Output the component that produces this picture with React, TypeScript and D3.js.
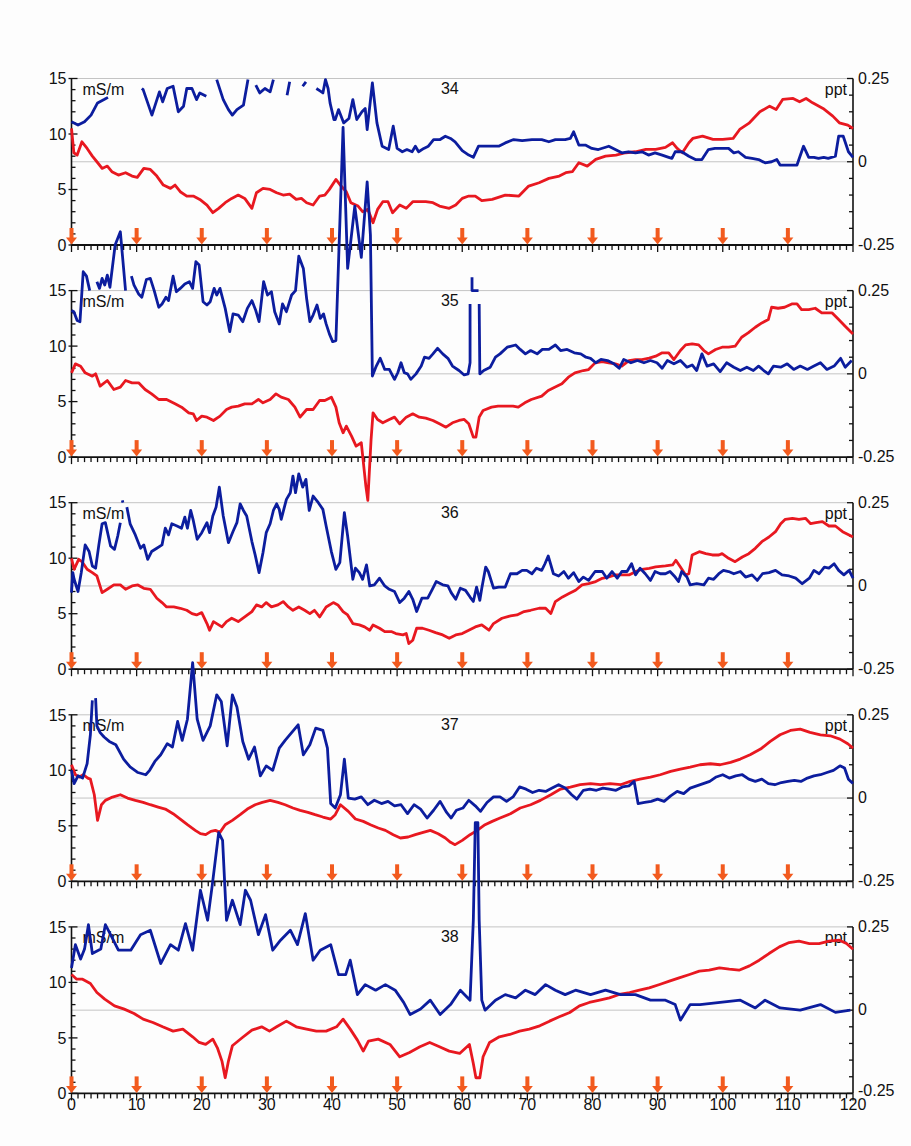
import React from "react";
import * as d3 from "d3";

type Pt = [number, number] | null;

// ---------- labels / ticks ----------
const panelLabels = ["34", "35", "36", "37", "38"];
const xTickLabels = [0, 10, 20, 30, 40, 50, 60, 70, 80, 90, 100, 110, 120];
const arrowStations = [0, 10, 20, 30, 40, 50, 60, 70, 80, 90, 100, 110];
const leftTicks = [0, 5, 10, 15];
const rightTicks = [-0.25, 0, 0.25];
const leftUnit = "mS/m";
const rightUnit = "ppt";

// ---------- data: blue = conductivity (mS/m, left axis); red = ppt (right axis) ----------
const blue34: Pt[] = [[0,11.1],[1,10.8],[2,11.1],[3,11.7],[4,12.8],[5,13.1],[5.6,13.3],null,[10.8,14.1],[11,14.0],[12.35,11.7],[13.5,13.8],[14.0,12.9],[14.7,14.1],[15.6,14.3],[16.4,12.0],[17.2,12.5],[17.7,14.1],[18.5,14.1],[19.2,13.1],[19.7,13.7],[20.7,13.4],null,[22.3,14.9],[23.3,13.1],[24.1,12.2],[24.7,11.7],[25.4,12.2],[26.4,12.6],[27.1,14.9],null,[28.3,14.4],[28.9,13.7],[29.7,14.1],[30.5,13.8],[31.0,14.9],null,[33.1,13.5],[33.5,14.7],null,[35.5,14.3],[36.0,14.7],null,[37.6,14.1],[38.1,13.9],[38.6,13.7],[39.0,14.9],[39.4,14.1],[39.7,12.8],[40.3,11.3],[40.5,11.3],[41.0,12.2],[41.8,11.0],[42.6,11.4],[43.2,13.1],[43.8,11.3],[44.6,12.0],[45.1,12.3],[45.4,10.4],[46.2,14.6],[46.9,11.0],[47.7,8.9],[48.7,8.6],[49.4,10.7],[50.0,8.7],[50.8,8.4],[51.5,8.6],[52.3,8.4],[52.8,8.9],[53.3,8.4],[54.1,8.7],[54.8,8.9],[55.6,9.5],[56.6,9.5],[57.4,9.8],[58.2,9.6],[58.9,9.3],[60.0,8.5],[61.0,8.1],[61.7,7.9],[62.5,8.9],[64.1,8.9],[65.6,8.9],[66.6,9.2],[67.9,9.5],[69.2,9.4],[70.7,9.5],[72.2,9.5],[73.3,9.3],[74.3,9.5],[75.8,9.5],[76.6,9.6],[77.1,10.2],[77.9,9.0],[78.9,9.0],[79.9,8.7],[80.9,8.6],[82.5,8.9],[83.5,8.6],[84.5,8.3],[85.5,8.4],[86.6,8.3],[87.6,8.4],[88.6,8.1],[89.6,8.3],[90.7,8.1],[91.7,7.9],[92.2,7.8],[92.7,8.4],[93.7,8.4],[94.8,8.0],[95.8,7.7],[96.8,7.7],[97.8,8.6],[98.8,8.7],[99.9,8.7],[100.9,8.7],[101.7,8.3],[102.4,8.4],[103.5,7.9],[104.5,7.8],[105.5,7.7],[106.5,7.4],[107.5,7.5],[108.3,7.7],[108.8,7.2],[110.1,7.2],[111.4,7.2],[112.4,8.9],[113.2,7.9],[114.0,7.9],[114.7,7.8],[115.5,7.9],[116.2,7.8],[117.3,8.0],[117.8,9.8],[118.5,9.8],[119.3,8.4],[120,7.9]];
const red34: Pt[] = [[0,0.100],[0.36,0.027],[0.87,0.020],[1.6,0.060],[2.4,0.040],[3.2,0.017],[3.9,0],[4.7,-0.020],[5.5,-0.013],[6.2,-0.030],[7.2,-0.040],[8.3,-0.033],[9.3,-0.043],[10.1,-0.047],[11.1,-0.020],[12.1,-0.023],[13.1,-0.043],[14.1,-0.070],[15.2,-0.080],[15.9,-0.070],[16.7,-0.090],[17.7,-0.103],[18.7,-0.103],[19.7,-0.113],[20.8,-0.130],[21.7,-0.153],[22.6,-0.140],[23.6,-0.123],[24.6,-0.110],[25.6,-0.100],[26.6,-0.110],[27.7,-0.140],[28.4,-0.093],[29.4,-0.080],[30.5,-0.083],[31.5,-0.093],[32.5,-0.100],[33.5,-0.097],[34.5,-0.113],[35.3,-0.110],[36.1,-0.123],[37.1,-0.130],[38.1,-0.103],[38.9,-0.100],[39.6,-0.083],[40.6,-0.053],[41.4,-0.073],[42.2,-0.090],[42.9,-0.123],[44.0,-0.133],[44.7,-0.150],[45.5,-0.143],[46.3,-0.183],[47.0,-0.143],[47.8,-0.120],[48.6,-0.120],[49.3,-0.153],[50.4,-0.130],[51.4,-0.140],[52.4,-0.120],[53.4,-0.120],[54.4,-0.120],[55.5,-0.123],[56.5,-0.133],[58.0,-0.140],[59.0,-0.130],[60.0,-0.110],[61.0,-0.103],[62.0,-0.103],[63.0,-0.117],[64.6,-0.113],[66.6,-0.100],[68.7,-0.103],[70.2,-0.073],[71.8,-0.063],[73.3,-0.050],[74.9,-0.043],[75.9,-0.033],[76.9,-0.030],[77.9,-0.003],[79.2,-0.013],[80.5,0.007],[82.0,0.017],[83.6,0.020],[85.1,0.027],[86.6,0.030],[88.2,0.037],[89.7,0.037],[91.2,0.043],[92.3,0.057],[93.0,0.040],[93.8,0.027],[94.8,0.057],[95.4,0.070],[96.9,0.077],[98.5,0.067],[100.0,0.067],[101.6,0.070],[102.6,0.097],[104.1,0.117],[105.7,0.150],[107.2,0.167],[108.2,0.157],[109.2,0.187],[110.8,0.190],[111.8,0.180],[112.8,0.190],[113.8,0.177],[115.4,0.160],[116.9,0.137],[117.9,0.117],[119.2,0.110],[120,0.100]];

const blue35: Pt[] = [[0,13.2],[0.36,13.1],[0.87,12.3],[1.3,12.2],[1.8,16.7],[2.3,16.3],[2.8,15.0],null,[3.9,15.8],[4.3,15.2],[4.7,16.1],[5.1,15.5],[5.5,16.4],[5.9,15.3],[6.7,19.1],[7.5,20.3],[8.3,15.0],null,[9.2,16.3],[9.6,15.5],[10.3,14.7],[10.8,14.4],[11.5,16.0],[12.1,16.1],[12.7,15.0],[13.4,13.5],[13.9,13.8],[14.5,14.4],[14.9,14.1],[15.6,16.3],[16.1,14.9],[16.7,15.2],[17.4,15.6],[18.1,15.8],[18.6,15.2],[19.1,17.6],[19.6,17.3],[20.2,14.0],[20.8,13.7],[21.3,14.0],[21.9,15.2],[22.3,14.6],[22.8,15.2],[23.6,13.4],[24.3,11.3],[24.8,12.9],[25.6,12.8],[26.3,12.2],[27.0,13.4],[27.7,14.1],[28.3,13.2],[28.8,12.2],[29.5,15.8],[30.1,14.6],[30.7,14.9],[31.2,13.1],[31.9,12.0],[32.4,13.8],[33.0,13.1],[33.8,14.6],[34.4,15.0],[34.9,18.1],[35.6,17.0],[36.1,14.3],[36.6,12.2],[37.1,12.8],[37.7,13.7],[38.2,12.5],[38.7,12.9],[39.1,12.0],[39.6,11.1],[40.1,10.4],[40.6,10.5],[41.7,29.7],[42.4,17.0],[43.5,22.6],[44.5,18.0],[45.4,24.8],[45.9,20.0],[46.2,7.3],[46.8,8.2],[47.4,8.9],[48.1,7.9],[48.8,7.9],[49.6,7.0],[50.1,7.6],[50.6,8.5],[51.1,7.6],[51.6,7.5],[52.1,7.0],[52.9,7.5],[53.7,8.2],[54.2,9.0],[54.9,8.9],[55.5,9.3],[56.2,9.8],[57.0,9.3],[57.8,8.9],[58.5,8.2],[59.5,7.8],[60.3,7.4],[60.9,7.5],[61.2,8.5],[61.2,13.8],null,[61.5,16.2],[61.5,15.0],[62.5,15.0],null,[62.6,13.8],[62.7,7.5],[63.3,7.8],[64.3,8.1],[65.1,9.0],[65.8,9.3],[66.9,9.9],[68.2,10.1],[68.9,9.7],[69.7,9.3],[70.5,9.6],[71.5,9.3],[72.3,9.7],[73.3,9.7],[74.3,10.1],[75.1,9.6],[76.1,9.7],[77.2,9.4],[78.2,9.3],[79.0,9.0],[79.7,8.9],[80.5,8.5],[81.3,8.8],[82.3,8.7],[83.3,8.4],[84.1,8.0],[84.8,8.8],[85.9,8.5],[86.9,8.7],[87.9,8.5],[88.9,8.7],[89.9,8.5],[90.7,8.0],[91.5,8.7],[92.5,8.4],[93.5,8.7],[94.5,8.1],[95.3,8.3],[96.0,7.8],[96.8,9.3],[97.6,8.2],[98.6,8.4],[99.6,7.7],[100.6,8.5],[101.7,8.1],[102.7,7.8],[103.7,8.1],[104.7,7.8],[105.5,8.2],[106.3,7.8],[107.0,7.5],[107.8,8.2],[108.9,8.1],[109.9,8.4],[110.9,7.9],[111.9,8.2],[113.0,7.9],[114.0,8.2],[115.0,8.5],[116.0,7.9],[117.1,8.2],[118.1,8.9],[118.8,8.1],[119.8,8.7]];
const red35: Pt[] = [[0,0.003],[0.6,0.030],[1.4,0.023],[2.1,0.003],[3.2,-0.007],[3.7,0],[4.4,-0.037],[5.5,-0.020],[6.5,-0.047],[7.5,-0.040],[8.3,-0.020],[9.3,-0.027],[10.3,-0.027],[11.3,-0.047],[12.3,-0.060],[13.4,-0.077],[14.6,-0.077],[15.9,-0.090],[16.9,-0.100],[18.0,-0.117],[18.7,-0.120],[19.2,-0.140],[20.0,-0.127],[20.8,-0.130],[21.8,-0.140],[22.8,-0.127],[23.8,-0.107],[24.6,-0.100],[25.6,-0.097],[26.6,-0.090],[27.7,-0.090],[28.7,-0.077],[29.4,-0.087],[30.5,-0.077],[31.4,-0.060],[32.2,-0.070],[33.3,-0.077],[34.3,-0.100],[35.1,-0.130],[36.1,-0.107],[37.1,-0.107],[38.1,-0.080],[38.9,-0.080],[39.9,-0.070],[40.6,-0.100],[41.1,-0.147],[41.7,-0.177],[42.2,-0.157],[43.0,-0.187],[43.7,-0.217],[44.5,-0.207],[45.2,-0.337],[45.5,-0.380],[46.0,-0.197],[46.3,-0.117],[47.0,-0.137],[47.8,-0.147],[48.8,-0.137],[49.6,-0.130],[50.4,-0.150],[51.4,-0.130],[52.4,-0.120],[53.4,-0.130],[54.4,-0.133],[55.5,-0.140],[56.5,-0.150],[57.5,-0.160],[58.5,-0.147],[59.5,-0.140],[60.3,-0.137],[61.0,-0.150],[61.7,-0.190],[62.1,-0.190],[62.6,-0.130],[63.2,-0.110],[64.5,-0.100],[65.5,-0.097],[66.5,-0.097],[67.8,-0.097],[68.6,-0.100],[69.6,-0.087],[70.6,-0.077],[72.2,-0.067],[73.2,-0.050],[74.2,-0.040],[75.3,-0.030],[76.3,-0.010],[77.3,0.003],[78.6,0.010],[79.4,0.013],[80.4,0.033],[81.5,0.037],[82.5,0.033],[83.5,0.030],[84.5,0.023],[85.6,0.040],[86.6,0.043],[87.6,0.043],[88.7,0.047],[89.7,0.053],[90.7,0.063],[91.7,0.063],[92.5,0.043],[93.5,0.070],[94.3,0.087],[95.3,0.090],[96.3,0.087],[97.1,0.070],[97.8,0.060],[98.9,0.073],[99.9,0.080],[100.9,0.080],[101.9,0.083],[102.9,0.110],[103.9,0.123],[105.0,0.140],[106.0,0.153],[107.0,0.163],[107.5,0.200],[108.5,0.197],[109.5,0.200],[110.6,0.210],[111.4,0.210],[112.1,0.193],[113.2,0.193],[114.2,0.197],[115.2,0.183],[116.8,0.183],[117.8,0.163],[118.8,0.143],[120,0.120]];

const blue36: Pt[] = [[0,6.9],[0.2,8.7],[0.4,8.1],[1.0,7.0],[1.5,8.7],[2.1,11.2],[2.7,10.6],[3.2,9.3],[3.7,9.1],[4.2,11.2],[4.7,13.1],[5.2,13.2],[6.0,11.1],[6.6,10.8],[7.1,12.0],[7.5,13.2],null,[7.8,15.2],[7.9,15.0],null,[8.5,14.6],[9.0,13.1],[9.8,12.1],[10.6,10.9],[11.1,11.2],[11.7,9.9],[12.3,10.6],[13.1,10.9],[13.9,11.2],[14.4,12.7],[14.9,12.1],[15.4,13.1],[16.2,12.9],[16.9,12.7],[17.4,13.7],[17.8,12.7],[18.3,14.3],[18.7,13.4],[19.3,11.7],[20.0,12.3],[20.8,13.2],[21.2,12.3],[21.7,13.8],[22.2,14.6],[22.7,16.4],[23.3,13.8],[24.1,11.4],[24.8,12.4],[25.4,13.2],[25.9,14.9],[26.4,14.3],[26.9,13.8],[27.7,11.5],[28.2,10.3],[28.8,8.7],[29.4,10.5],[29.9,12.3],[30.5,13.1],[31.0,14.3],[31.5,14.9],[31.9,14.4],[32.2,13.5],[33.0,15.3],[33.6,15.9],[34.0,17.4],[34.4,15.9],[34.9,17.6],[35.5,16.4],[36.0,17.1],[36.5,14.3],[37.1,15.6],[37.9,15.0],[38.6,14.4],[39.1,12.9],[39.9,10.6],[40.6,9.0],[41.2,9.6],[41.9,14.1],[42.4,12.0],[43.2,8.1],[43.6,9.1],[44.2,8.7],[44.7,8.1],[45.3,9.4],[45.8,7.5],[46.5,7.6],[47.3,8.2],[48.1,7.5],[48.8,7.2],[49.6,7.0],[50.4,6.0],[51.1,6.4],[51.8,7.0],[52.4,6.3],[53.0,5.2],[53.8,6.4],[54.7,6.4],[55.4,7.2],[56.0,7.9],[57.0,7.6],[57.8,7.5],[58.3,6.9],[59.0,6.3],[59.7,7.3],[60.5,7.1],[61.2,6.5],[61.7,6.1],[62.2,7.4],[62.7,6.2],[63.0,7.3],[63.6,9.2],[64.0,8.8],[64.8,7.3],[65.6,7.4],[66.6,7.4],[67.4,8.6],[68.4,8.6],[69.2,8.9],[69.9,8.9],[70.7,8.6],[71.4,9.1],[72.2,8.9],[72.7,9.5],[73.2,10.2],[74.0,8.6],[74.8,8.4],[75.6,8.8],[76.3,8.2],[77.1,8.7],[77.9,7.9],[78.6,8.3],[79.4,8.0],[80.4,8.8],[81.5,8.8],[82.2,8.2],[83.0,8.8],[83.8,8.2],[84.5,8.8],[85.3,8.8],[86.0,9.5],[86.6,8.5],[87.3,9.1],[88.1,8.6],[88.9,8.0],[89.6,8.8],[90.4,8.6],[91.2,8.6],[91.9,8.8],[92.7,8.3],[93.2,7.9],[93.7,8.8],[94.5,8.3],[95.0,7.6],[96.0,7.7],[97.1,7.6],[97.8,8.2],[98.6,8.1],[99.4,8.6],[100.1,8.9],[100.9,8.8],[101.7,8.6],[102.7,8.8],[103.5,8.3],[104.5,8.5],[105.3,8.0],[106.1,8.6],[107.1,8.7],[108.1,8.9],[109.1,8.5],[110.2,8.4],[111.2,8.2],[112.2,7.7],[113.3,8.2],[114.0,8.9],[114.8,8.6],[115.6,9.2],[116.3,9.1],[117.1,9.5],[117.8,8.9],[118.6,8.5],[119.4,8.9],[120,8.2]];
const red36: Pt[] = [[0,0.083],[0.4,0.050],[1.1,0.080],[1.6,0.073],[2.4,0.050],[3.2,0.040],[3.9,0.030],[4.7,-0.020],[5.5,-0.010],[6.5,0.003],[7.5,0.003],[8.3,-0.010],[9.3,0],[10.2,0.003],[11.1,-0.007],[12.1,-0.010],[13.1,-0.037],[13.9,-0.050],[14.6,-0.063],[15.7,-0.063],[16.7,-0.067],[17.7,-0.073],[18.5,-0.083],[19.2,-0.087],[20.0,-0.080],[20.8,-0.113],[21.2,-0.133],[21.8,-0.107],[22.3,-0.113],[23.1,-0.123],[23.8,-0.107],[24.6,-0.097],[25.6,-0.107],[26.6,-0.093],[27.7,-0.077],[28.4,-0.057],[29.2,-0.063],[29.9,-0.050],[30.7,-0.063],[31.7,-0.057],[32.5,-0.047],[33.3,-0.063],[34.0,-0.073],[34.9,-0.063],[35.8,-0.073],[36.6,-0.083],[37.3,-0.073],[38.1,-0.093],[39.1,-0.063],[40.2,-0.050],[40.9,-0.057],[41.7,-0.077],[42.4,-0.087],[43.2,-0.113],[44.2,-0.117],[45.0,-0.123],[45.8,-0.133],[46.3,-0.117],[47.3,-0.127],[48.1,-0.137],[49.1,-0.137],[49.8,-0.143],[50.9,-0.147],[51.4,-0.143],[51.8,-0.173],[52.4,-0.163],[53.0,-0.127],[53.9,-0.127],[54.9,-0.133],[55.9,-0.140],[57.0,-0.147],[58.0,-0.157],[59.0,-0.147],[60.0,-0.143],[61.0,-0.133],[62.0,-0.123],[63.0,-0.117],[64.1,-0.133],[64.8,-0.113],[66.1,-0.097],[67.4,-0.090],[68.4,-0.087],[69.5,-0.077],[70.5,-0.073],[71.8,-0.067],[72.8,-0.067],[73.6,-0.083],[74.3,-0.047],[75.4,-0.033],[76.4,-0.023],[77.4,-0.013],[78.4,0.003],[79.4,0.007],[80.5,0.013],[81.5,0.023],[82.5,0.027],[83.5,0.033],[84.6,0.033],[85.6,0.033],[86.6,0.043],[87.6,0.050],[88.7,0.053],[89.7,0.057],[91.2,0.060],[92.3,0.063],[92.8,0.077],[93.5,0.057],[94.3,0.033],[94.8,0.037],[95.3,0.093],[96.4,0.103],[97.4,0.097],[98.4,0.093],[99.4,0.093],[99.9,0.097],[100.9,0.083],[101.9,0.073],[103.0,0.087],[104.0,0.097],[105.0,0.113],[106.0,0.133],[107.1,0.147],[108.1,0.163],[108.9,0.187],[109.6,0.200],[110.7,0.203],[111.7,0.200],[112.7,0.203],[113.5,0.187],[114.3,0.190],[115.3,0.193],[116.3,0.180],[117.3,0.180],[118.4,0.163],[119.4,0.153],[120,0.147]];

const blue37: Pt[] = [[0,10.0],[0.4,8.8],[1.0,9.5],[1.7,9.3],[2.4,10.6],[2.9,13.2],[3.2,16.3],null,[3.7,16.5],[3.9,14.0],[4.4,13.4],[5.0,13.0],[5.8,12.6],[6.8,12.3],[8.0,11.0],[9.0,10.3],[10.2,9.8],[11.4,9.6],[12.0,10.0],[12.8,10.8],[13.7,11.4],[14.7,12.4],[15.5,12.1],[16.3,14.4],[17.0,12.7],[17.8,14.6],[18.6,19.7],[19.3,14.6],[20.2,12.7],[21.3,14.0],[22.3,16.8],[23.0,16.2],[23.9,12.2],[24.7,16.8],[25.4,15.7],[26.3,12.6],[27.2,11.0],[28.1,12.1],[29.0,9.5],[29.9,10.4],[30.9,10.0],[31.9,12.0],[32.8,12.7],[33.8,13.4],[34.8,14.1],[35.6,11.4],[36.6,12.3],[37.5,13.8],[38.6,13.6],[39.3,12.0],[39.8,7.0],[40.5,6.6],[41.3,7.8],[41.9,11.0],[42.5,7.5],[43.5,7.4],[44.5,7.6],[45.5,6.9],[46.5,7.3],[47.6,7.0],[48.6,7.2],[49.6,6.8],[50.6,6.9],[51.6,6.1],[52.6,6.9],[53.6,6.5],[54.6,5.7],[55.6,6.4],[56.6,7.2],[57.6,6.2],[58.3,5.7],[59.1,6.4],[60.1,6.6],[61.0,7.3],[62.0,6.8],[62.8,6.3],[63.8,7.1],[64.8,7.6],[65.8,7.6],[66.8,7.2],[67.8,7.6],[68.8,8.5],[69.8,8.3],[70.8,8.0],[71.8,8.2],[72.8,8.1],[73.8,8.4],[74.8,8.7],[75.8,8.4],[76.8,7.8],[77.6,7.4],[78.6,8.2],[79.6,8.3],[80.6,8.2],[81.6,8.4],[82.6,8.3],[83.6,8.2],[84.6,8.5],[85.6,8.6],[86.4,9.0],[87.0,7.0],[88.0,7.1],[89.0,7.2],[90.0,7.4],[91.0,7.2],[92.0,7.7],[93.0,8.1],[94.0,7.9],[95.0,8.4],[96.0,8.6],[97.0,8.8],[98.0,9.0],[99.0,9.4],[100.0,9.6],[101.0,9.3],[102.0,9.5],[103.0,9.6],[104.0,9.2],[105.0,9.0],[106.0,9.2],[107.0,8.8],[108.0,8.7],[109.0,8.9],[110.0,9.0],[111.0,9.1],[112.0,9.0],[113.0,9.3],[114.0,9.5],[115.0,9.6],[116.0,9.8],[117.0,10.0],[118.0,10.4],[118.7,10.2],[119.3,9.2],[120,8.8]];
const red37: Pt[] = [[0,0.100],[0.6,0.070],[1.2,0.063],[1.8,0.070],[2.5,0.060],[2.9,0.057],[3.5,0.010],[4.0,-0.067],[4.6,-0.020],[5.2,-0.007],[6.3,0.003],[7.5,0.010],[8.6,0.000],[9.8,-0.007],[11.0,-0.013],[12.1,-0.020],[13.3,-0.027],[14.4,-0.033],[15.6,-0.047],[16.7,-0.063],[17.8,-0.080],[19.0,-0.097],[19.8,-0.107],[20.6,-0.110],[21.4,-0.100],[22.1,-0.097],[22.8,-0.103],[23.6,-0.080],[24.7,-0.067],[25.9,-0.050],[27.0,-0.033],[28.2,-0.020],[29.3,-0.013],[30.5,-0.007],[31.7,-0.013],[32.8,-0.020],[34.0,-0.030],[35.1,-0.037],[36.3,-0.043],[37.4,-0.050],[38.6,-0.057],[39.8,-0.063],[40.5,-0.050],[41.3,-0.020],[42.5,-0.040],[43.6,-0.063],[44.8,-0.070],[45.9,-0.080],[47.1,-0.090],[48.2,-0.097],[49.4,-0.110],[50.5,-0.120],[51.7,-0.117],[52.8,-0.110],[54.0,-0.103],[55.1,-0.097],[56.3,-0.107],[57.4,-0.120],[58.2,-0.133],[58.9,-0.140],[60.0,-0.127],[61.2,-0.110],[62.3,-0.097],[63.5,-0.080],[64.6,-0.070],[65.8,-0.060],[67.4,-0.047],[68.9,-0.030],[70.5,-0.020],[72.0,-0.007],[73.6,0.010],[75.1,0.027],[76.6,0.033],[78.1,0.040],[79.7,0.043],[81.2,0.040],[82.7,0.043],[84.3,0.040],[85.8,0.050],[87.3,0.057],[88.9,0.063],[90.4,0.070],[92.0,0.080],[93.5,0.087],[95.0,0.093],[96.5,0.100],[98.1,0.103],[99.6,0.100],[101.2,0.107],[102.7,0.117],[104.2,0.130],[105.8,0.147],[107.3,0.170],[108.8,0.190],[110.4,0.203],[111.9,0.207],[113.4,0.197],[115.0,0.190],[116.5,0.187],[118.0,0.177],[119.2,0.163],[120,0.150]];

const blue38: Pt[] = [[0,11.3],[0.6,13.4],[1.4,12.1],[2.0,13.0],[2.6,15.2],[3.2,12.6],[4.5,13.0],[5.2,15.2],[6.0,14.3],[7.2,12.9],[9.1,12.9],[10.6,14.3],[12.1,14.7],[13.7,11.7],[15.2,13.4],[16.4,12.9],[17.5,15.3],[18.6,12.9],[19.8,18.3],[20.9,15.6],[21.6,18.7],[22.6,23.5],[23.2,22.8],[23.8,15.6],[24.7,17.4],[25.9,15.2],[26.7,18.3],[27.5,17.4],[28.7,14.3],[29.8,16.1],[30.9,12.9],[32.1,13.8],[33.6,14.7],[34.7,13.4],[35.9,16.2],[37.1,12.0],[38.2,12.9],[39.8,13.4],[41.0,10.7],[42.1,10.7],[42.8,12.0],[43.9,8.9],[45.1,9.8],[46.7,9.3],[48.2,9.8],[49.7,9.3],[51.0,8.2],[52.0,7.1],[53.6,7.6],[55.1,8.4],[56.6,7.1],[58.2,8.0],[59.7,9.3],[61.2,8.4],[61.7,15.6],[62.0,24.4],[62.4,24.4],[62.6,15.6],[63.0,8.4],[63.5,7.5],[65.1,8.4],[66.6,8.9],[68.2,8.6],[69.7,9.3],[71.2,8.9],[72.8,9.8],[74.3,9.3],[75.8,8.9],[77.4,9.3],[79.7,8.9],[82.0,9.3],[84.3,8.9],[86.6,8.9],[88.9,8.4],[91.2,8.4],[92.7,8.0],[93.5,6.6],[95.0,8.0],[96.5,8.0],[99.6,8.2],[102.7,8.4],[105.0,7.7],[106.5,8.4],[108.8,7.7],[111.9,7.5],[115.0,8.0],[117.3,7.3],[119.6,7.5]];
const red38: Pt[] = [[0,0.107],[0.8,0.093],[1.7,0.093],[2.9,0.080],[3.9,0.053],[5.1,0.033],[6.6,0.013],[8.1,0.003],[9.6,-0.010],[11.0,-0.027],[12.5,-0.037],[14.0,-0.050],[15.6,-0.063],[17.1,-0.057],[18.6,-0.080],[19.6,-0.097],[20.6,-0.103],[21.7,-0.087],[22.4,-0.113],[23.1,-0.153],[23.6,-0.203],[24.1,-0.153],[24.7,-0.107],[26.2,-0.083],[27.7,-0.060],[29.2,-0.050],[30.4,-0.063],[31.5,-0.050],[33.0,-0.033],[34.5,-0.050],[36.1,-0.057],[37.6,-0.063],[39.1,-0.063],[40.7,-0.050],[41.7,-0.027],[42.8,-0.057],[43.9,-0.090],[44.8,-0.123],[45.6,-0.093],[47.1,-0.087],[48.9,-0.103],[50.4,-0.140],[51.9,-0.127],[53.5,-0.110],[55.0,-0.097],[56.5,-0.110],[58.0,-0.123],[59.6,-0.130],[61.1,-0.103],[61.7,-0.160],[62.1,-0.203],[62.7,-0.203],[63.2,-0.140],[64.2,-0.097],[65.7,-0.080],[67.3,-0.073],[68.8,-0.063],[70.3,-0.057],[71.9,-0.047],[73.4,-0.033],[74.9,-0.020],[76.5,-0.007],[78.0,0.013],[79.5,0.023],[81.1,0.030],[82.6,0.037],[84.1,0.047],[85.7,0.053],[87.2,0.060],[88.7,0.067],[90.3,0.077],[91.8,0.087],[93.3,0.097],[94.9,0.107],[96.4,0.117],[97.9,0.120],[99.5,0.127],[101.0,0.123],[102.5,0.120],[104.1,0.133],[105.6,0.150],[107.1,0.170],[108.7,0.190],[110.2,0.203],[111.7,0.207],[113.3,0.200],[114.8,0.200],[116.3,0.207],[117.9,0.210],[119.0,0.200],[120,0.183]];

const blueSeries = [blue34, blue35, blue36, blue37, blue38];
const redSeries = [red34, red35, red36, red37, red38];

// ---------- layout ----------
const W = 911;
const H = 1146;
const X_LEFT = 71.5;
const X_RIGHT = 853;
const FIRST_BOTTOM = 245;
const PANEL_STEP = 212.1;
const PANEL_H = 166.5;
const FONT = "'Liberation Sans', Arial, Helvetica, sans-serif";
const BLUE = "#0c1d9e";
const RED = "#e81820";
const ORANGE = "#f25a1e";

const x = d3.scaleLinear().domain([0, 120]).range([X_LEFT, X_RIGHT]);

export default function App() {
  const minorX = d3.range(0, 121, 1);
  const minorL = d3.range(0, 16, 1);
  const minorR = d3.range(-0.25, 0.2501, 0.05);

  const panels = panelLabels.map((label, i) => {
    const bottom = FIRST_BOTTOM + PANEL_STEP * i;
    const top = bottom - PANEL_H;
    const yL = d3.scaleLinear().domain([0, 15]).range([bottom, top]);
    const yR = d3.scaleLinear().domain([-0.25, 0.25]).range([bottom, top]);
    return { label, i, bottom, top, yL, yR };
  });
  const lastIdx = panels.length - 1;

  return (
    <svg
      width={W}
      height={H}
      style={{ position: "absolute", left: 0, top: 0, background: "#fff" }}
      fontFamily={FONT}
    >
      <rect x={0} y={0} width={W} height={H} fill="#fdfdfd" />
      {/* axes, grids, arrows */}
      {panels.map(({ label, i, bottom, top, yL, yR }) => (
        <g key={"ax" + label}>
          <line x1={X_LEFT} x2={X_RIGHT} y1={yL(15)} y2={yL(15)} stroke="#c4c4c4" strokeWidth={1} />
          <line x1={X_LEFT} x2={X_RIGHT} y1={yR(0)} y2={yR(0)} stroke="#c4c4c4" strokeWidth={1} />
          {/* left axis */}
          <line x1={X_LEFT} x2={X_LEFT} y1={top} y2={bottom} stroke="#111" strokeWidth={1.6} />
          {minorL.map((v) => {
            const major = v % 5 === 0;
            return (
              <line key={"l" + v} x1={major ? X_LEFT - 3 : X_LEFT} x2={X_LEFT + (major ? 6 : 4)} y1={yL(v)} y2={yL(v)} stroke="#111" strokeWidth={1.3} />
            );
          })}
          {leftTicks.map((v) => (
            <text key={"lt" + v} x={X_LEFT - 5} y={yL(v)} dy="0.36em" textAnchor="end" fontSize={16} fill="#111">
              {v}
            </text>
          ))}
          {/* right axis */}
          <line x1={X_RIGHT} x2={X_RIGHT} y1={top} y2={bottom} stroke="#111" strokeWidth={1.6} />
          {minorR.map((v, k) => {
            const major = k % 5 === 0;
            return (
              <line key={"r" + k} x1={X_RIGHT - (major ? 6 : 4)} x2={X_RIGHT} y1={yR(v)} y2={yR(v)} stroke="#111" strokeWidth={1.3} />
            );
          })}
          {rightTicks.map((v) => (
            <text
              key={"rt" + v}
              x={X_RIGHT + 5}
              y={yR(v) - (i === lastIdx && v < 0 ? 3 : 0)}
              dy="0.32em"
              textAnchor="start"
              fontSize={16}
              fill="#111"
            >
              {v}
            </text>
          ))}
          {/* bottom axis */}
          <line x1={X_LEFT} x2={X_RIGHT} y1={bottom} y2={bottom} stroke="#111" strokeWidth={1.8} />
          {minorX.map((v) => (
            <line key={"x" + v} x1={x(v)} x2={x(v)} y1={bottom} y2={bottom + (v % 10 === 0 ? 7 : 5)} stroke="#111" strokeWidth={1.3} />
          ))}
          {i === lastIdx &&
            xTickLabels.map((v) => (
              <text key={"xt" + v} x={x(v)} y={bottom + 17} textAnchor="middle" fontSize={16} fill="#111">
                {v}
              </text>
            ))}
          {/* unit labels and panel number */}
          <text x={X_LEFT + 11} y={top + 16.5} fontSize={16} fill="#111">
            {leftUnit}
          </text>
          <text x={X_RIGHT - 6} y={top + 16} textAnchor="end" fontSize={16} fill="#111">
            {rightUnit}
          </text>
          <text x={x(58.1)} y={top + 15.5} textAnchor="middle" fontSize={16} fill="#111">
            {label}
          </text>
          {/* orange station arrows */}
          {arrowStations.map((s) => {
            const cx = x(s);
            return (
              <g key={"a" + s} fill={ORANGE}>
                <rect x={cx - 2} y={bottom - 17} width={4} height={10} />
                <path d={`M${cx - 5.5},${bottom - 7.5}L${cx + 5.5},${bottom - 7.5}L${cx},${bottom - 0.5}Z`} />
              </g>
            );
          })}
        </g>
      ))}
      {/* data lines */}
      {panels.map(({ label, i, yL, yR }) => {
        const redLine = d3
          .line<Pt>()
          .defined((d) => d !== null)
          .x((d) => x((d as [number, number])[0]))
          .y((d) => yR((d as [number, number])[1]));
        const blueLine = d3
          .line<Pt>()
          .defined((d) => d !== null)
          .x((d) => x((d as [number, number])[0]))
          .y((d) => yL((d as [number, number])[1]));
        return (
          <g key={"ln" + label}>
            <path d={redLine(redSeries[i]) || ""} fill="none" stroke={RED} strokeWidth={2.8} strokeLinejoin="round" />
            <path d={blueLine(blueSeries[i]) || ""} fill="none" stroke={BLUE} strokeWidth={2.8} strokeLinejoin="round" />
          </g>
        );
      })}
    </svg>
  );
}
